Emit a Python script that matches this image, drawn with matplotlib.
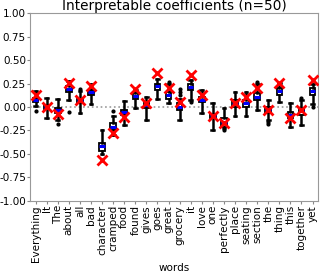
import matplotlib
matplotlib.use("Agg")
import matplotlib.pyplot as plt

plt.rcParams["axes.unicode_minus"] = False

words = ["Everything", "It", "The", "about", "all", "bad", "character", "cramped",
         "food", "found", "gives", "goes", "great", "grocery", "it", "love", "one",
         "perfectly", "place", "seating", "section", "the", "thing", "this",
         "together", "yet"]
medians = [0.07, 0.00, -0.03, 0.19, 0.07, 0.16, -0.42, -0.21, -0.05, 0.12, 0.02, 0.22,
           0.13, 0.00, 0.21, 0.08, -0.09, -0.16, 0.03, 0.04, 0.11, -0.02, 0.17, -0.08,
           -0.04, 0.17]
q1 = [0.05, -0.02, -0.06, 0.16, 0.04, 0.13, -0.47, -0.24, -0.08, 0.09, -0.01, 0.18,
      0.09, -0.03, 0.18, 0.05, -0.12, -0.21, 0.00, 0.00, 0.07, -0.06, 0.13, -0.12,
      -0.08, 0.13]
q3 = [0.10, 0.02, -0.01, 0.22, 0.09, 0.18, -0.38, -0.17, -0.03, 0.15, 0.05, 0.24,
      0.16, 0.04, 0.25, 0.11, -0.07, -0.12, 0.07, 0.07, 0.15, 0.00, 0.20, -0.05,
      -0.01, 0.20]
whislo = [0.01, -0.12, -0.14, 0.07, -0.06, 0.03, -0.50, -0.30, -0.19, -0.01, -0.14, 0.09,
          0.04, -0.14, 0.08, -0.06, -0.24, -0.22, -0.10, -0.10, -0.03, -0.14, 0.05, -0.21,
          -0.19, 0.03]
whishi = [0.17, 0.10, 0.09, 0.28, 0.17, 0.24, -0.25, -0.10, 0.06, 0.18, 0.11, 0.30,
          0.25, 0.09, 0.29, 0.18, 0.04, -0.01, 0.16, 0.16, 0.24, 0.07, 0.26, 0.04,
          0.08, 0.24]
fliers = [[-0.04], [], [-0.18], [-0.05], [0.19], [], [], [-0.04], [], [], [], [],
          [0.27], [0.13, 0.16, 0.19], [0.05], [], [], [-0.25], [], [], [0.27],
          [-0.16, -0.18], [], [], [0.10], [0.00]]
original = [0.13, 0.00, -0.07, 0.26, 0.08, 0.22, -0.56, -0.28, -0.11, 0.19, 0.04, 0.36,
            0.20, 0.05, 0.34, 0.13, -0.10, -0.17, 0.04, 0.11, 0.20, -0.03, 0.26, -0.12,
            -0.03, 0.29]
yticks = [-1.0, -0.75, -0.5, -0.25, 0.0, 0.25, 0.5, 0.75, 1.0]

fig = plt.figure(figsize=(3.2, 2.73), dpi=100)
ax = fig.add_axes([0.094, 0.264, 0.9, 0.688])

stats = []
for i, w in enumerate(words):
    stats.append(dict(label=w, med=medians[i], q1=q1[i], q3=q3[i],
                      whislo=whislo[i], whishi=whishi[i], fliers=fliers[i]))
pos = list(range(1, len(words) + 1))
ax.axhline(0, color="#999999", linestyle=":", linewidth=1.2, zorder=0)
ax.bxp(stats, positions=pos, widths=0.5, patch_artist=True,
       boxprops=dict(facecolor="white", edgecolor="black", linewidth=1.3),
       medianprops=dict(color="blue", linewidth=2.2),
       whiskerprops=dict(color="black", linewidth=1.8),
       capprops=dict(color="black", linewidth=1.8),
       flierprops=dict(marker="o", markersize=2, markerfacecolor="black",
                       markeredgecolor="black"))
ax.plot(pos, original, linestyle="none", marker="x", color="red",
        markersize=7, markeredgewidth=2, zorder=5)

ax.set_xlim(0.5, len(words) + 0.5)
ax.set_ylim(-1, 1)
ax.set_yticks(yticks)
ax.set_yticklabels([f"{v:.2f}" for v in yticks], fontsize=7.5)
ax.set_xticks(pos)
ax.set_xticklabels(words, rotation=90, fontsize=7.5)
ax.tick_params(length=2, color="#888888", pad=1)
for s in ax.spines.values():
    s.set_color("#999999")
ax.set_xlabel("words", fontsize=7.5, labelpad=1)
ax.set_title("Interpretable coefficients (n=50)", fontsize=9.8, pad=2)
fig.savefig("out.png", dpi=100)
